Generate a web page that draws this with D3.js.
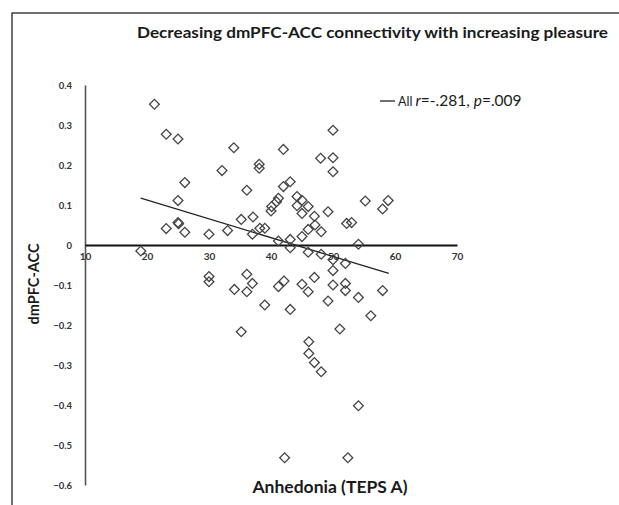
<!DOCTYPE html>
<html>
<head>
<meta charset="utf-8">
<script src="https://cdn.jsdelivr.net/npm/d3@7"></script>
<style>
  body { margin: 0; background: #fff; }
  svg { display: block; }
</style>
</head>
<body>
<div id="chart"></div>
<script>
// values
var anhedonia = [19.0, 21.2, 23.1, 25.0, 26.1, 25.0, 25.0, 25.1, 23.1, 26.1,
                 30.0, 32.1, 34.0, 36.1, 33.0, 35.2, 37.1, 37.0, 38.1, 38.1,
                 38.2, 39.0, 42.0, 43.1, 42.0, 41.2, 40.9, 40.1, 40.0, 41.2,
                 43.1, 43.1, 44.2, 45.0, 44.2, 46.0, 45.0, 47.0, 49.2, 45.0,
                 46.0, 47.1, 48.1, 46.0, 48.1, 50.0, 48.0, 50.0, 50.0, 50.0,
                 52.0, 52.2, 53.0, 54.1, 55.2, 58.0, 58.9, 50.0, 30.0, 30.0,
                 36.1, 37.0, 34.1, 36.1, 41.2, 42.1, 45.0, 47.0, 46.0, 50.0,
                 52.0, 52.0, 54.1, 58.0, 39.0, 43.1, 49.2, 56.1, 35.2, 51.1,
                 46.1, 46.1, 47.0, 48.1, 54.1, 42.2, 52.4];
var connectivity = [-0.015, 0.352, 0.277, 0.265, 0.156, 0.111, 0.056, 0.053, 0.041, 0.032,
                    0.027, 0.186, 0.243, 0.137, 0.036, 0.064, 0.070, 0.027, 0.202, 0.192,
                    0.042, 0.042, 0.239, 0.158, 0.146, 0.117, 0.108, 0.096, 0.085, 0.010,
                    0.014, -0.007, 0.121, 0.112, 0.098, 0.096, 0.079, 0.072, 0.083, 0.021,
                    0.039, 0.050, 0.033, -0.018, -0.023, 0.287, 0.217, 0.218, 0.183, -0.037,
                    -0.046, 0.054, 0.056, 0.002, 0.110, 0.090, 0.111, -0.064, -0.079, -0.092,
                    -0.073, -0.096, -0.111, -0.117, -0.104, -0.090, -0.098, -0.081, -0.117, -0.100,
                    -0.096, -0.114, -0.131, -0.114, -0.150, -0.161, -0.140, -0.177, -0.217, -0.210,
                    -0.242, -0.271, -0.294, -0.317, -0.402, -0.532, -0.532];
var trendX = [19, 59];
var trendY = [0.117, -0.071];
var xTicks = [10, 20, 30, 40, 50, 60, 70];
var yTicks = [0.4, 0.3, 0.2, 0.1, 0, -0.1, -0.2, -0.3, -0.4, -0.5, -0.6];

var W = 619, H = 505;
var svg = d3.select("#chart").append("svg")
    .attr("width", W)
    .attr("height", H);

// frame round the figure (only the left and top edges show)
svg.append("rect")
    .attr("x", 12).attr("y", 13)
    .attr("width", 640).attr("height", 520)
    .attr("fill", "none")
    .attr("stroke", "#111")
    .attr("stroke-width", 1.2);

var x = d3.scaleLinear().domain([10, 70]).range([85, 457]);
var y = d3.scaleLinear().domain([-0.6, 0.4]).range([485, 85]);

// title
svg.append("text")
    .attr("x", 137).attr("y", 38)
    .attr("textLength", 471)
    .attr("lengthAdjust", "spacingAndGlyphs")
    .attr("font-family", "Lato, 'Open Sans', sans-serif")
    .attr("font-weight", "700")
    .attr("font-size", "16px")
    .attr("fill", "#1a1a1a")
    .text("Decreasing dmPFC-ACC connectivity with increasing pleasure");

// y axis
var yAxis = d3.axisLeft(y)
    .tickValues(yTicks)
    .tickSize(0)
    .tickPadding(13)
    .tickFormat(function (d) { return d === 0 ? "0" : d3.format(".1f")(d); });
var gy = svg.append("g")
    .attr("transform", "translate(" + x(10) + ",0)")
    .call(yAxis);
gy.select(".domain").attr("stroke", "#555").attr("stroke-width", 1.6);
gy.selectAll("text")
    .attr("font-family", "Lato, sans-serif")
    .attr("font-weight", "700")
    .attr("font-size", "9.5px")
    .attr("fill", "#333");

// x axis, crossing at 0
var xAxis = d3.axisBottom(x)
    .tickValues(xTicks)
    .tickSize(0)
    .tickPadding(8)
    .tickFormat(d3.format("d"));
var gx = svg.append("g")
    .attr("transform", "translate(0," + y(0) + ")")
    .call(xAxis);
gx.select(".domain").attr("stroke", "#111").attr("stroke-width", 2);
gx.selectAll("text")
    .attr("font-family", "Lato, sans-serif")
    .attr("font-weight", "700")
    .attr("font-size", "10px")
    .attr("fill", "#333");

// axis titles
svg.append("text")
    .attr("transform", "translate(39,284) rotate(-90)")
    .attr("text-anchor", "middle")
    .attr("font-family", "Lato, sans-serif")
    .attr("font-weight", "700")
    .attr("font-size", "14.5px")
    .attr("fill", "#1a1a1a")
    .text("dmPFC-ACC");

svg.append("text")
    .attr("x", 330).attr("y", 493)
    .attr("text-anchor", "middle")
    .attr("font-family", "Lato, sans-serif")
    .attr("font-weight", "700")
    .attr("font-size", "17.5px")
    .attr("fill", "#1a1a1a")
    .text("Anhedonia (TEPS A)");

// trend line
svg.append("line")
    .attr("x1", x(trendX[0])).attr("y1", y(trendY[0]))
    .attr("x2", x(trendX[1])).attr("y2", y(trendY[1]))
    .attr("stroke", "#222")
    .attr("stroke-width", 1.3);

// points, open diamonds
var pts = anhedonia.map(function (d, i) { return [d, connectivity[i]]; });
var diamond = d3.symbol().type(d3.symbolSquare).size(48);
svg.append("g").selectAll("path")
    .data(pts)
    .enter()
    .append("path")
    .attr("d", diamond)
    .attr("transform", function (d) {
        return "translate(" + x(d[0]) + "," + y(d[1]) + ") rotate(45)";
    })
    .attr("fill", "none")
    .attr("stroke", "#444")
    .attr("stroke-width", 1.3);

// legend
var lg = svg.append("g").attr("transform", "translate(380,101)");
lg.append("line")
    .attr("x1", 0).attr("x2", 15)
    .attr("y1", 0).attr("y2", 0)
    .attr("stroke", "#222")
    .attr("stroke-width", 1.3);
var lt = lg.append("text")
    .attr("x", 18).attr("y", 5)
    .attr("font-family", "Lato, sans-serif")
    .attr("font-size", "15.5px")
    .attr("fill", "#1a1a1a");
lt.append("tspan").attr("font-size", "12.5px").text("All ");
lt.append("tspan").attr("font-style", "italic").text("r");
lt.append("tspan").text("=-.281, ");
lt.append("tspan").attr("font-style", "italic").text("p");
lt.append("tspan").text("=.009");
</script>
</body>
</html>
